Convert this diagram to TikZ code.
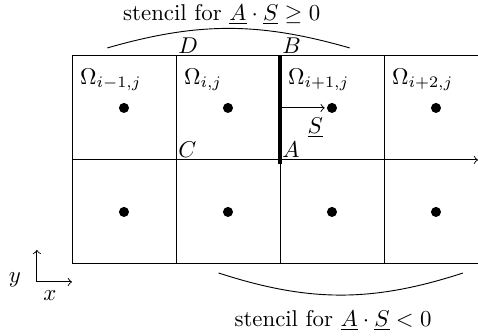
\documentclass[tikz,border=0pt]{standalone}
\usepackage{amssymb}
\begin{document}
\begin{tikzpicture}[x=1.6cm, y=1.6cm]
            \useasboundingbox (-0.692,-0.692) rectangle (3.904,2.538);

            % malla de celdas
            \coordinate (P00) at (0,0);
            \coordinate (P02) at (0,2);
            \coordinate (E0) at (3.904,0);
            \coordinate (E1) at (3.904,1);
            \coordinate (E2) at (3.904,2);
            \draw (P02) -- (E2);               % borde superior
            \draw[->] (0,1) -- (E1);           % linea media con flecha
            \draw (P00) -- (E0);               % borde inferior
            \foreach \i in {0,1,2,3} {
                \draw (\i,0) -- (\i,2);        % lineas verticales
            }

            % cara AB resaltada
            \coordinate (A) at (2,1);
            \coordinate (B) at (2,2);
            \draw[line width=1.4pt] (2,0.96) -- (B);

            % centros de las celdas
            \foreach \i in {0,1,2,3} {
                \fill (\i+0.5,1.5) circle (2.2pt);
                \fill (\i+0.5,0.5) circle (2.2pt);
            }

            % nombres de las celdas
            \node[anchor=west] (om1) at (0,1.77) {$\Omega_{i-1,j}$};
            \node[anchor=west] (om2) at (1,1.77) {$\Omega_{i,j}$};
            \node[anchor=west] (om3) at (2,1.77) {$\Omega_{i+1,j}$};
            \node[anchor=west] (om4) at (3,1.77) {$\Omega_{i+2,j}$};

            % esquinas
            \node[anchor=south west, inner sep=0.8pt] (labD) at (1,2) {$D$};
            \node[anchor=south west, inner sep=0.8pt] (labB) at (B) {$B$};
            \node[anchor=south west, inner sep=0.8pt] (labC) at (1,1) {$C$};
            \node[anchor=south west, inner sep=0.8pt] (labA) at (A) {$A$};

            % vector S
            \coordinate (S0) at (2,1.5);
            \coordinate (S1) at (2.43,1.5);
            \draw[->] (S0) -- (S1);
            \node (labS) at (2.34,1.31) {$\underline{S}$};

            % stencil superior
            \coordinate (T0) at (0.34,2.077);
            \coordinate (T1) at (2.67,2.077);
            \draw (T0) to[bend left=16] (T1);
            \node (stA) at (1.44,2.394) {stencil for $\underline{A}\cdot\underline{S}\geq 0$};

            % stencil inferior
            \coordinate (U0) at (1.41,-0.087);
            \coordinate (U1) at (3.76,-0.087);
            \draw (U0) to[bend right=18] (U1);
            \node (stB) at (2.51,-0.545) {stencil for $\underline{A}\cdot\underline{S}< 0$};

            % ejes
            \coordinate (O) at (-0.337,-0.173);
            \draw[->] (O) -- (-0.337,0.135);
            \draw[->] (O) -- (0,-0.173);
            \node (laby) at (-0.548,-0.154) {$y$};
            \node (labx) at (-0.212,-0.308) {$x$};

        \end{tikzpicture}
\end{document}
